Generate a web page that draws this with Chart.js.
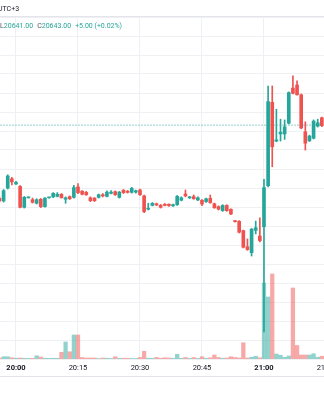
<!DOCTYPE html>
<html>
<head>
<meta charset="utf-8">
<script src="https://cdn.jsdelivr.net/npm/chart.js@4.4.1/dist/chart.umd.min.js"></script>
<style>
  html, body { margin: 0; padding: 0; background: #fff; width: 324px; height: 400px; overflow: hidden; }
  #wrap { position: relative; width: 324px; height: 400px; overflow: hidden; font-family: Roboto, "Noto Sans", sans-serif; }
  #chart { position: absolute; left: 0; top: 0; }
  .rule { position: absolute; left: 0; width: 324px; height: 1px; background: #e3e5ea; }
  #tz { position: absolute; left: -2px; top: 5px; font-size: 7px; line-height: 9px; color: #131722; white-space: nowrap; }
  #legend { position: absolute; left: 0; top: 22px; font-size: 7px; line-height: 9px; color: #26a69a; white-space: nowrap; }
  #legend .k { color: #50535e; }
  #legend .g { margin-left: 4px; }
</style>
</head>
<body>
<div id="wrap">
  <canvas id="chart" width="360" height="400"></canvas>
  <div class="rule" style="top:16px"></div>
  <div class="rule" style="top:376px"></div>
  <div id="tz">UTC+3</div>
  <div id="legend"></div>
</div>
<script>
// 1-minute bars, 19:56 – 21:14 (UTC+3)
const times = [
  '19:56','19:57','19:58','19:59','20:00','20:01','20:02','20:03','20:04','20:05',
  '20:06','20:07','20:08','20:09','20:10','20:11','20:12','20:13','20:14','20:15',
  '20:16','20:17','20:18','20:19','20:20','20:21','20:22','20:23','20:24','20:25',
  '20:26','20:27','20:28','20:29','20:30','20:31','20:32','20:33','20:34','20:35',
  '20:36','20:37','20:38','20:39','20:40','20:41','20:42','20:43','20:44','20:45',
  '20:46','20:47','20:48','20:49','20:50','20:51','20:52','20:53','20:54','20:55',
  '20:56','20:57','20:58','20:59','21:00','21:01','21:02','21:03','21:04','21:05',
  '21:06','21:07','21:08','21:09','21:10','21:11','21:12','21:13','21:14'
];
const opens = [
  20566, 20563.25, 20576.75, 20586.5, 20581, 20578.5, 20556.5, 20566.5, 20564.5, 20560.75,
  20565, 20557.25, 20566.5, 20567.5, 20568, 20570.25, 20565, 20567.75, 20567, 20578,
  20573.5, 20572.25, 20566.5, 20566.25, 20567, 20569.75, 20568, 20571.25, 20573, 20567,
  20574.5, 20573.5, 20572.25, 20572.5, 20574.75, 20568.5, 20554.5, 20558.5, 20560.25, 20558.5,
  20559.75, 20559.75, 20558, 20559.25, 20564, 20570.5, 20566.5, 20567.75, 20564.25, 20564,
  20562.5, 20566, 20560.25, 20557.25, 20553, 20558.5, 20554.5, 20542, 20541.75, 20532,
  20515, 20508.75, 20532.25, 20526.25, 20536, 20579.25, 20667, 20626.25, 20633.75, 20633.75,
  20645, 20682, 20685.25, 20675, 20636, 20626.5, 20629.25, 20642, 20650.75
];
const highs = [
  20567.5, 20575.25, 20590.75, 20588, 20583.75, 20579.5, 20568, 20567.25, 20566.25, 20565.5,
  20565.75, 20566.75, 20567, 20572, 20572, 20571, 20567.5, 20568.5, 20579.75, 20581.5,
  20574.25, 20573.25, 20567.5, 20566.75, 20570.5, 20571, 20573.75, 20574, 20573.75, 20573.25,
  20575.25, 20574.25, 20577.5, 20574.75, 20575.75, 20569.5, 20560.75, 20561.5, 20561, 20559.5,
  20560.5, 20560.25, 20560, 20569, 20567.5, 20574.75, 20568, 20569.5, 20567.5, 20564.75,
  20566.25, 20569.5, 20561, 20558, 20559.25, 20559.25, 20555, 20542.5, 20542.5, 20532.5,
  20523.25, 20534.25, 20542, 20545.5, 20586, 20684.25, 20684.25, 20659.75, 20649.25, 20648.5,
  20678, 20695, 20689.75, 20675.75, 20646.5, 20632.5, 20648.5, 20649.25, 20651.5
];
const lows = [
  20562, 20562, 20575.75, 20580, 20580.5, 20555.75, 20555.75, 20566.25, 20561, 20560,
  20556.25, 20556.75, 20566.25, 20566.75, 20567.5, 20566.25, 20560.75, 20564.75, 20566.25, 20571,
  20569.5, 20569, 20562.5, 20562.5, 20566.25, 20567.5, 20567.5, 20570.5, 20569, 20566.25,
  20571, 20571.5, 20571.5, 20571.5, 20569, 20551, 20553.75, 20558, 20558.25, 20555.75,
  20558, 20557.5, 20557.5, 20558.5, 20563.25, 20567.5, 20565.75, 20565, 20563.5, 20558.25,
  20561.75, 20560.75, 20555.5, 20553.75, 20552.25, 20552.25, 20548.75, 20541, 20529.5, 20513.75,
  20511.25, 20505.25, 20528.5, 20520, 20425.25, 20578, 20599.25, 20625.5, 20626.25, 20628,
  20644.25, 20675.75, 20674.5, 20639.25, 20616.75, 20625.75, 20628.5, 20641, 20641.5
];
const closes = [
  20563.25, 20574, 20589.5, 20583.25, 20582.75, 20556.5, 20567, 20566.75, 20561.75, 20564.5,
  20557.25, 20566.25, 20566.75, 20571.25, 20570.25, 20566.5, 20566.5, 20565.5, 20577.25, 20572,
  20570.25, 20569.75, 20563.5, 20563.5, 20569.75, 20568.5, 20572.5, 20572.5, 20569.75, 20572.5,
  20572, 20572.25, 20576.5, 20574, 20569.75, 20552, 20555.5, 20560.75, 20559, 20556.5,
  20558.5, 20558.25, 20559.25, 20568, 20566.5, 20568.5, 20566.75, 20565.5, 20566.5, 20560,
  20565.5, 20561.5, 20556, 20554.5, 20558.5, 20553, 20549.5, 20541.5, 20530.25, 20514.5,
  20512, 20533.5, 20535, 20521.5, 20577.25, 20667.75, 20620.25, 20627.5, 20635.5, 20641.25,
  20677.25, 20676.5, 20675, 20640, 20624, 20631.5, 20647.25, 20645.5, 20642.5
];
const volumes = [
  40, 90, 90, 50, 30, 40, 30, 25, 30, 130,
  80, 30, 25, 30, 30, 270, 680, 290, 960, 960,
  60, 40, 40, 40, 20, 40, 30, 20, 90, 30,
  30, 30, 20, 20, 60, 310, 30, 30, 60, 30,
  50, 40, 30, 190, 30, 60, 25, 60, 25, 90,
  30, 50, 160, 60, 30, 40, 90, 60, 40, 650,
  40, 70, 110, 50, 3040, 2480, 3400, 200, 150, 70,
  120, 2840, 540, 160, 160, 160, 210, 70, 110
];

// Status line values
const lastLow = 20641;
const lastClose = 20643;
const lastChange = 5;

const UP = '#26a69a';
const DOWN = '#ef5350';
const UP_VOL = 'rgba(38,166,154,0.5)';
const DOWN_VOL = 'rgba(239,83,80,0.5)';
const LAST_LINE = 'rgba(38,166,154,0.5)';
const GRID = '#eef0f3';

// visible window
const timeMin = 1196.13, timeMax = 1283.23;      // minutes since midnight
const priceMin = 20396.84, priceMax = 20756.84;
const volumeMax = 13680;

const toMinutes = t => { const [h, m] = t.split(':').map(Number); return h * 60 + m; };
const fmtTime = v => {
  const h = Math.floor(v / 60), m = Math.round(v % 60);
  return String(h).padStart(2, '0') + ':' + String(m).padStart(2, '0');
};
const xs = times.map(toMinutes);
const isUp = i => closes[i] >= opens[i];
const sign = v => (v >= 0 ? '+' : '');

// status line text
const pct = (lastChange / (lastClose - lastChange) * 100).toFixed(2);
document.getElementById('legend').innerHTML =
  '<span class="k">L</span>' + lastLow.toFixed(2) +
  '<span class="g"><span class="k">C</span>' + lastClose.toFixed(2) + '</span>' +
  '<span class="g">' + sign(lastChange) + lastChange.toFixed(2) + ' (' + sign(lastChange) + pct + '%)</span>';

new Chart(document.getElementById('chart'), {
  type: 'bar',
  data: {
    datasets: [
      {
        label: 'body',
        data: xs.map((x, i) => ({ x, y: [opens[i], closes[i]] })),
        backgroundColor: c => (isUp(c.dataIndex) ? UP : DOWN),
        barThickness: 3,
        minBarLength: 1,
        grouped: false,
        order: 0,
        yAxisID: 'y'
      },
      {
        label: 'wick',
        data: xs.map((x, i) => ({ x, y: [lows[i], highs[i]] })),
        backgroundColor: c => (isUp(c.dataIndex) ? UP : DOWN),
        barThickness: 1,
        grouped: false,
        order: 1,
        yAxisID: 'y'
      },
      {
        type: 'line',
        label: 'last',
        data: [{ x: timeMin, y: lastClose }, { x: timeMax, y: lastClose }],
        borderColor: LAST_LINE,
        borderWidth: 1,
        borderDash: [2, 1],
        pointRadius: 0,
        order: 2,
        yAxisID: 'y'
      },
      {
        label: 'volume',
        data: xs.map((x, i) => ({ x, y: volumes[i] })),
        backgroundColor: c => (isUp(c.dataIndex) ? UP_VOL : DOWN_VOL),
        barThickness: 3.6,
        grouped: false,
        order: 3,
        yAxisID: 'yv'
      }
    ]
  },
  options: {
    responsive: false,
    animation: false,
    devicePixelRatio: 1,
    layout: { padding: { top: 17, left: 0, right: 0, bottom: 0 } },
    plugins: { legend: { display: false }, tooltip: { enabled: false } },
    scales: {
      x: {
        type: 'linear',
        min: timeMin,
        max: timeMax,
        offset: false,
        grid: { color: GRID, drawTicks: false, offset: false },
        border: { display: false },
        ticks: {
          stepSize: 15,
          includeBounds: false,
          autoSkip: false,
          maxRotation: 0,
          padding: 5,
          color: '#131722',
          font: c => ({
            family: 'Roboto',
            size: 7.5,
            weight: c.tick && c.tick.value % 60 === 0 ? 'bold' : 'normal'
          }),
          callback: v => fmtTime(v)
        },
        afterFit: s => { s.height = 41; }
      },
      y: {
        position: 'right',
        min: priceMin,
        max: priceMax,
        grid: { color: GRID, drawTicks: false },
        border: { display: false },
        ticks: { display: false, stepSize: 20, includeBounds: false },
        afterFit: s => { s.width = 0; }
      },
      yv: {
        position: 'right',
        display: false,
        min: 0,
        max: volumeMax
      }
    }
  }
});
</script>
</body>
</html>
